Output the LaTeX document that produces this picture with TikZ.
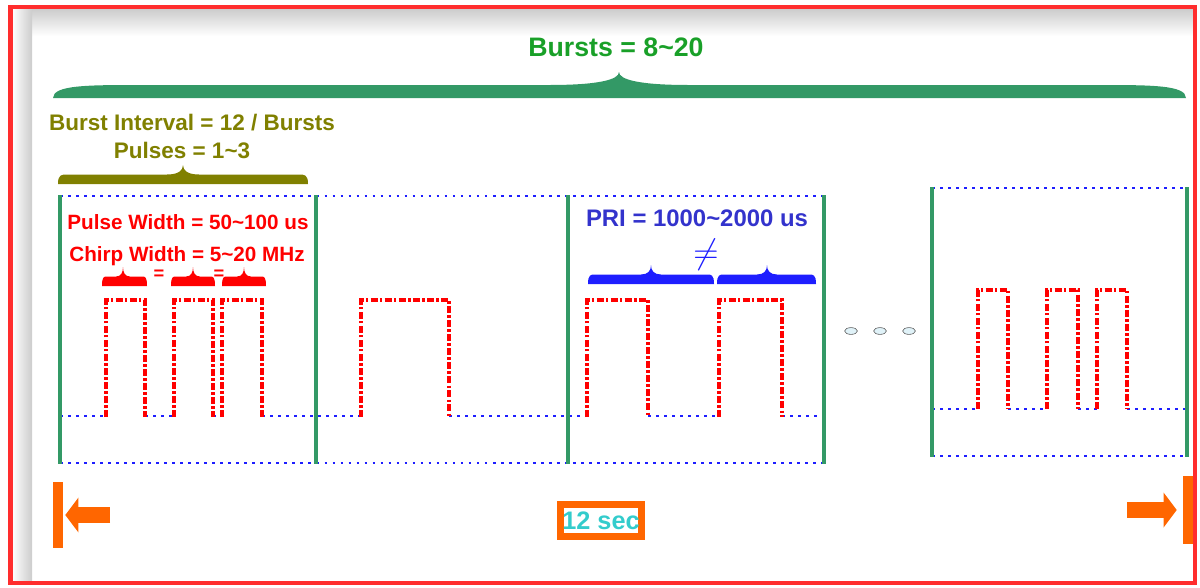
\documentclass[tikz,border=0pt]{standalone}
\usepackage{fontspec}
\setmainfont{Liberation Sans}
\usetikzlibrary{positioning,arrows.meta,shapes.geometric}

\definecolor{framered}{RGB}{255,45,45}
\definecolor{burstgreen}{RGB}{51,153,102}
\definecolor{bursttext}{RGB}{25,160,40}
\definecolor{olivebrace}{RGB}{128,128,0}
\definecolor{pritext}{RGB}{51,51,204}
\definecolor{dotblue}{RGB}{30,30,255}
\definecolor{arroworange}{RGB}{255,102,0}
\definecolor{sectext}{RGB}{51,204,204}

% filled brace: colour, left x, right x, tip x, bottom y, band height, end length, tip half width
\newcommand{\fatbrace}[8]{%
  \fill[#1] (#2,#5) .. controls (#2,{#5-#6}) and ({#2+0.4*#7},{#5-#6}) .. ({#2+#7},{#5-#6})
    -- ({#4-#8},{#5-#6}) .. controls ({#4-0.3*#8},{#5-#6}) and (#4,{#5-1.4*#6}) .. (#4,{#5-2*#6})
    .. controls (#4,{#5-1.4*#6}) and ({#4+0.3*#8},{#5-#6}) .. ({#4+#8},{#5-#6})
    -- ({#3-#7},{#5-#6}) .. controls ({#3-0.4*#7},{#5-#6}) and (#3,{#5-#6}) .. (#3,#5) -- cycle;}

\begin{document}
\begin{tikzpicture}[
        x=0.025cm, y=-0.025cm,
        every node/.style={inner sep=0pt},
        bold/.style={font=\fontsize{#1}{#1}\selectfont\bfseries},
        burstlbl/.style={bold=19pt, text=bursttext, anchor=base},
        intervallbl/.style={bold=16pt, text=olivebrace, anchor=base},
        pulselbl/.style={bold=14.7pt, text=red, anchor=base},
        prilbl/.style={bold=17pt, text=pritext, anchor=base},
        burstline/.style={draw=burstgreen, line width=0.1cm},
        dotline/.style={draw=dotblue, line width=1.9pt, dash pattern=on 1.9pt off 3.8pt},
        pulse/.style={draw=red, line width=2.7pt, dash pattern=on 5pt off 1.6pt on 1.8pt off 1.6pt},
        obar/.style={fill=arroworange, minimum width=0.25cm, inner sep=0pt},
        blockarrow/.style={draw=arroworange, line width=0.42cm, -{Triangle[length=0.33cm, width=0.86cm]}},
        dotmark/.style={ellipse, draw=gray!70!black, fill=gray!30!cyan!15, thin, minimum width=0.32cm, minimum height=0.17cm},
        secbox/.style={draw=arroworange, line width=0.175cm, minimum width=2.025cm, minimum height=0.8cm,
            bold=18pt, text=sectext}
    ]
        \useasboundingbox (0,0) rectangle (1200,587);

        % Frame with shadow
        \shade[top color=gray!40, bottom color=white] (12,9) rectangle (1193,36);
        \shade[left color=white, right color=gray!40] (12,9) rectangle (32,581);
        \draw[framered, line width=0.1cm] (10.5,7) rectangle (1195,583);

        % Braces and labels
        \fatbrace{burstgreen}{53}{1186}{619}{98}{13}{88}{70}
        \node[burstlbl] (bursts) at (616,56) {Bursts = 8\textasciitilde 20};
        \node[intervallbl] (interval) at (192,130) {Burst Interval = 12 / Bursts};
        \node[intervallbl] (pulses) at (182,158) {Pulses = 1\textasciitilde 3};
        \fatbrace{olivebrace}{58}{308}{183}{184}{9.5}{9}{16}

        % Burst boxes
        \draw[dotline] (60,196) -- (824,196);
        \draw[dotline] (60,463) -- (824,463);
        \draw[dotline] (932,188) -- (1187,188);
        \draw[dotline] (932,456) -- (1187,456);
        \foreach \a/\b in {60/106,145/174,213/222,262/361,449/587,648/719,782/824}
            \draw[dotline] (\a,416) -- (\b,416);
        \foreach \a/\b in {932/978,1008/1047,1078/1097,1127/1187}
            \draw[dotline] (\a,409) -- (\b,409);
        \foreach \x in {60,316,568,824}
            \draw[burstline] (\x,195) -- (\x,464);
        \foreach \x in {932,1187}
            \draw[burstline] (\x,187) -- (\x,457);

        % Pulses
        \foreach \a/\b in {106/145,174/213,222/262,361/449,587/648,719/782}
            \draw[pulse] (\a,417) |- (\b,300) -- (\b,417);
        \foreach \a/\b in {978/1008,1047/1078,1097/1127}
            \draw[pulse] (\a,409) |- (\b,290) -- (\b,409);

        % Pulse width and chirp
        \node[pulselbl] (pw) at (188,229) {Pulse Width = 50\textasciitilde 100 us};
        \node[pulselbl] (cw) at (187,261) {Chirp Width = 5\textasciitilde 20 MHz};
        \fatbrace{red}{102}{147}{123}{286}{9.5}{5}{7}
        \fatbrace{red}{171}{215}{193}{286}{9.5}{5}{7}
        \fatbrace{red}{222}{266}{244}{286}{9.5}{5}{7}
        \node[bold=13pt, text=red] (eqA) at (159,275) {=};
        \node[bold=13pt, text=red] (eqB) at (219,275) {=};

        % PRI
        \node[prilbl] (pri) at (697,226) {PRI = 1000\textasciitilde 2000 us};
        \node[font=\fontsize{28pt}{28pt}\selectfont, text=dotblue] (neq) at (706,255) {$\neq$};
        \fatbrace{dotblue}{588}{714}{651}{284}{9.5}{7}{10}
        \fatbrace{dotblue}{717}{816}{767}{284}{9.5}{7}{10}

        % More bursts
        \foreach \x [count=\i] in {851,880,909}
            \node[dotmark] (d\i) at (\x,331) {};

        % Twelve seconds span
        \node[obar, minimum height=1.65cm] (lbar) at (58,515) {};
        \node[obar, minimum height=1.7cm] (rbar) at (1188,510) {};
        \coordinate (ltail) at (110,515);
        \coordinate (rtail) at (1127,510);
        \draw[blockarrow, shorten >=0.05cm] (ltail) -- (lbar.east);
        \draw[blockarrow, shorten >=0.15cm] (rtail) -- (rbar.west);
        \node[secbox] (sec) at (601,520.5) {12 sec};
    \end{tikzpicture}
\end{document}
